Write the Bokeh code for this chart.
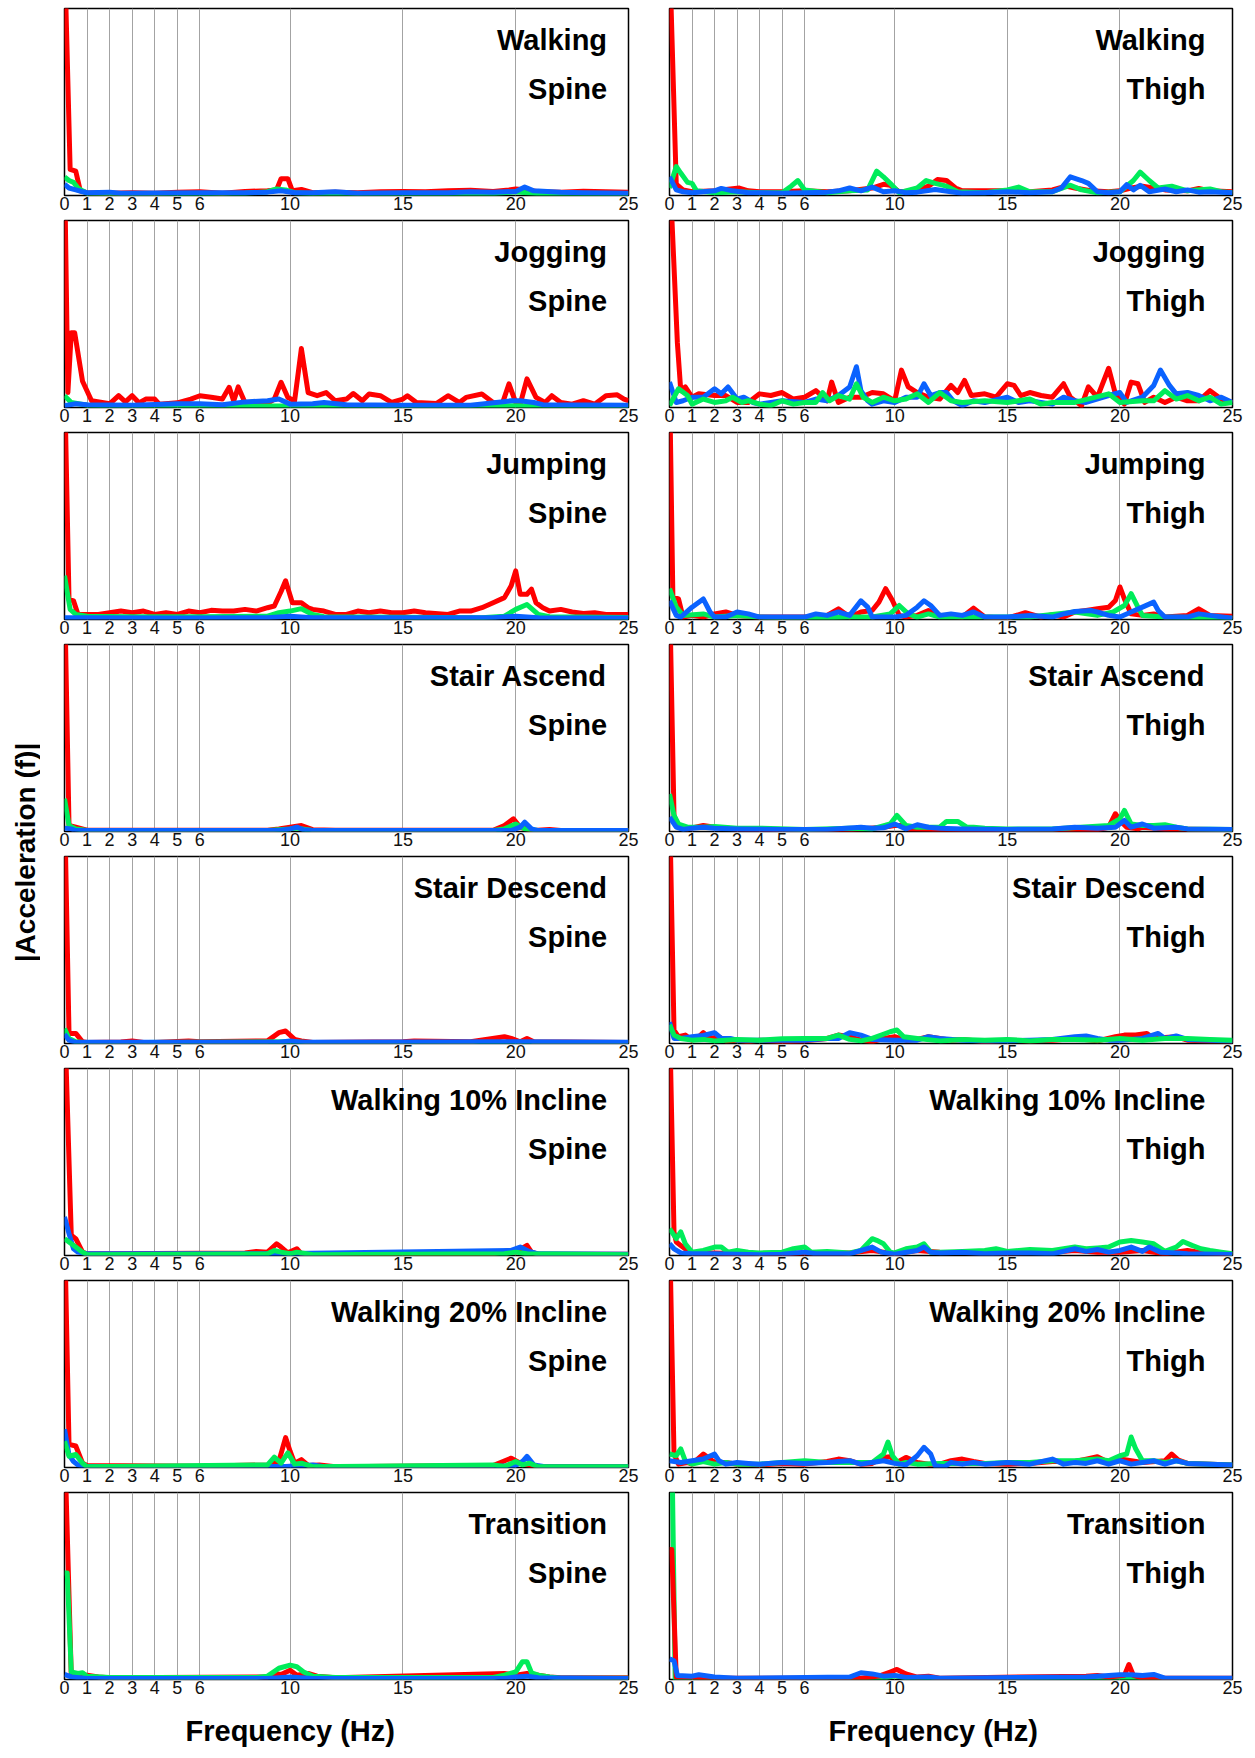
import math

from bokeh.embed import file_html
from bokeh.layouts import column, row
from bokeh.models import FixedTicker, Label, Range1d, Title
from bokeh.plotting import figure
from bokeh.resources import INLINE

# ---------------------------------------------------------------------------
# Axis ticks, panel names
# ---------------------------------------------------------------------------
FREQ_TICKS = [0, 1, 2, 3, 4, 5, 6, 10, 15, 20, 25]
GRID_TICKS = [1, 2, 3, 4, 5, 6, 10, 15, 20]
ACTIVITIES = ["Walking", "Jogging", "Jumping", "Stair Ascend", "Stair Descend",
              "Walking 10% Incline", "Walking 20% Incline", "Transition"]
PLACEMENTS = ["Spine", "Thigh"]

# ---------------------------------------------------------------------------
# Spectra: (frequency Hz, |acceleration| in % of panel height), per axis
# R = red trace, G = green trace, B = blue trace
# ---------------------------------------------------------------------------
WALKING_SPINE_R = [(0, 130), (0.25, 14), (0.5, 13), (0.7, 2.5), (1, 1.5), (2, 1.2), (3, 1.5), (4, 1.2), (5, 1.8),
                   (6, 2), (7, 1.2), (8, 2.2), (9, 2.5), (9.4, 3), (9.6, 9), (9.9, 9), (10.1, 2.5), (10.5, 3.2),
                   (11, 1.5), (12, 1.8), (13, 1.5), (14, 2), (15, 2.2), (16, 2), (17, 2.5), (18, 2.8), (19, 2.2),
                   (19.7, 3), (20, 3.5), (20.5, 3), (21, 2), (22, 1.8), (23, 2.3), (24, 2), (25, 1.8)]
WALKING_SPINE_G = [(0, 10), (0.2, 8), (0.4, 7), (0.6, 4), (0.8, 2.5), (1, 1.2), (3, 0.8), (6, 1), (8, 1.2), (9, 2),
                   (9.4, 3.5), (9.8, 3), (10.2, 1.5), (11, 1), (15, 1), (19, 1), (20, 2), (20.5, 1.5), (21, 1),
                   (25, 0.8)]
WALKING_SPINE_B = [(0, 6), (0.2, 4), (0.5, 3), (0.8, 2), (1, 1.5), (2, 1.8), (2.5, 1.2), (4, 1.3), (6, 1.5), (8, 1.5),
                   (9, 1.8), (9.6, 2.5), (10.2, 1.5), (11, 1.5), (12, 2), (13, 1.2), (15, 1.5), (17, 1.5), (18, 2),
                   (19, 1.8), (20, 2.2), (20.4, 4.5), (20.8, 2.5), (22, 1.8), (23, 1.5), (25, 1.2)]

WALKING_THIGH_R = [(0, 130), (0.3, 6), (0.6, 3), (1, 2), (2, 2.5), (2.7, 3.5), (3.1, 4), (3.5, 2.5), (4, 2), (5, 2),
                   (6, 2.5), (7, 2), (8, 2.5), (9, 4), (9.5, 6), (9.8, 5.5), (10.2, 2), (11, 2.5), (11.5, 5),
                   (11.9, 8.5), (12.3, 8), (12.7, 4), (13, 2.5), (14, 2.5), (15, 2.5), (16, 2), (17, 3), (17.6, 5),
                   (18, 4), (18.7, 2.5), (19.5, 2), (20, 2.5), (20.5, 4), (21, 5), (21.5, 4), (22, 3), (23, 2.5),
                   (23.5, 3.8), (24, 2.5), (25, 2)]
WALKING_THIGH_G = [(0, 4), (0.3, 15.5), (0.5, 12), (0.8, 7), (1.0, 6.5), (1.2, 2.5), (2, 1.5), (3, 2), (4, 1.5),
                   (5, 1.5), (5.4, 5), (5.7, 8), (6, 3), (7, 1.5), (8, 2.5), (8.8, 3), (9.2, 13), (9.5, 10),
                   (9.8, 6.5), (10.2, 1.5), (11, 4), (11.4, 8), (11.8, 6.5), (12.3, 5), (12.8, 2), (14, 1.5), (15, 3),
                   (15.5, 4.5), (16, 2), (17, 2), (17.8, 5.5), (18.3, 3), (19, 1.5), (20, 2), (20.6, 8), (20.9, 12.5),
                   (21.3, 8), (21.7, 4), (22.3, 5), (23, 2.5), (24, 3.5), (24.5, 2), (25, 1.5)]
WALKING_THIGH_B = [(0, 10), (0.3, 3), (0.6, 2), (1, 1.5), (1.5, 2), (2, 2.5), (2.3, 3.8), (2.8, 2.5), (3.5, 1.5),
                   (4, 1.5), (5, 1.2), (6, 1.5), (7, 1.8), (7.5, 2.5), (8, 4), (8.5, 2.5), (9, 4.5), (9.5, 2),
                   (10, 2.5), (10.5, 1.5), (11, 1.8), (11.8, 3.2), (12.5, 2), (13, 1.2), (14, 1.5), (15, 2),
                   (16, 1.5), (17, 2), (17.4, 4), (17.8, 10), (18.3, 8), (18.6, 6.5), (19, 2), (19.5, 1.5), (20, 2),
                   (20.3, 5.8), (20.6, 3), (20.9, 5.5), (21.3, 2), (22, 3.5), (22.5, 2), (23, 3), (23.5, 1.8),
                   (24, 2), (25, 1.5)]

JOGGING_SPINE_R = [(0, 130), (0.15, 8), (0.3, 40), (0.45, 40), (0.8, 14), (1.2, 3.6), (2, 2), (2.4, 6.3), (2.7, 3),
                   (3, 6.3), (3.3, 2.5), (3.6, 4.5), (4, 4.5), (4.2, 1.8), (5, 2.5), (5.6, 4.5), (6, 6.3), (6.5, 5.5),
                   (7, 4.5), (7.3, 10.8), (7.5, 3.5), (7.7, 11), (8, 2.7), (9, 2.2), (9.3, 4.5), (9.6, 13.5),
                   (9.9, 5.4), (10.2, 3.6), (10.5, 31.5), (10.8, 8), (11.2, 6.3), (11.6, 8), (12, 3.6), (12.5, 4.5),
                   (12.8, 7.5), (13.2, 3.6), (13.5, 7.2), (14, 6.3), (14.5, 2.7), (15, 4.5), (15.2, 6.3),
                   (15.6, 2.7), (16.5, 2.2), (17, 6.3), (17.5, 2.7), (17.8, 5.4), (18.5, 7.2), (19, 2.7),
                   (19.4, 1.8), (19.7, 12.6), (20, 2.7), (20.2, 1.8), (20.5, 15.3), (20.9, 5.4), (21.3, 2.7),
                   (21.6, 6.3), (22, 2.7), (22.5, 1.8), (23, 3.6), (23.5, 1.8), (24, 6.3), (24.5, 6.8), (24.8, 4.5),
                   (25, 3.6)]
JOGGING_SPINE_G = [(0, 6.3), (0.3, 2.7), (1, 1.2), (3, 0.8), (10, 0.8), (20, 1), (25, 0.8)]
JOGGING_SPINE_B = [(0, 1), (0.5, 2), (1, 1.5), (3, 1.2), (5, 2), (6, 2), (7, 1.5), (8, 3), (9, 3.6), (9.5, 4.5),
                   (10, 1.8), (11, 2), (11.5, 2.7), (12.5, 1.5), (15, 1.2), (18, 1.2), (19.8, 3.6), (20.2, 3.6),
                   (20.8, 2.7), (21.2, 1.5), (25, 1.2)]

JOGGING_THIGH_R = [(0, 130), (0.35, 34.5), (0.5, 9), (0.7, 11), (1.0, 5.5), (1.3, 7.3), (2, 6.4), (2.5, 6.4),
                   (3, 2.7), (3.5, 2.7), (4, 7.3), (4.5, 6.4), (5, 8), (5.5, 4.5), (6, 5.5), (6.5, 9), (7, 3.6),
                   (7.2, 13.6), (7.5, 2.7), (8, 5.5), (8.5, 5.5), (9, 8), (9.5, 7.3), (10, 3.6), (10.3, 20),
                   (10.6, 11), (11, 8), (11.5, 5.5), (12, 4.5), (12.5, 11.8), (12.8, 8), (13.1, 14.5), (13.4, 6.4),
                   (14, 7.3), (14.5, 5.5), (15, 12.7), (15.3, 11.8), (15.6, 6.4), (16, 8), (16.5, 6.4), (17, 5.5),
                   (17.5, 12.7), (17.8, 5.5), (18.3, 1), (18.6, 11), (19, 5.5), (19.5, 21), (19.8, 7.3),
                   (20.2, 1.8), (20.5, 13.6), (20.8, 12.7), (21.1, 2.7), (21.5, 5.5), (22, 2.7), (22.5, 5.5),
                   (23, 3.6), (23.5, 3.6), (24, 9), (24.5, 4.5), (25, 2.7)]
JOGGING_THIGH_G = [(0, 1), (0.4, 10), (0.8, 6.4), (1.0, 1.8), (1.5, 4.5), (2, 2.7), (2.5, 3.6), (2.8, 5.5),
                   (3.2, 2.7), (3.5, 3.6), (4, 1.8), (4.5, 1), (5, 3.6), (5.5, 1.8), (6, 2.7), (6.5, 2.7), (6.8, 8),
                   (7.1, 3.6), (7.5, 6.4), (8, 4.5), (8.3, 12.7), (8.6, 5.5), (9, 2.7), (9.5, 5.5), (10, 3.6),
                   (10.5, 4.5), (11, 7.3), (11.5, 2.7), (12, 8), (12.5, 3.6), (13, 2.7), (14, 3.6), (15, 2.7),
                   (16, 4.5), (16.5, 1.8), (17, 2.7), (18, 2.7), (19.5, 7.3), (20, 2.7), (21, 3.6), (21.5, 3.6),
                   (22, 9), (22.5, 4.5), (23, 6.4), (23.5, 3.6), (24, 5.5), (24.5, 1.8), (25, 2.7)]
JOGGING_THIGH_B = [(0, 13.6), (0.3, 2.7), (0.6, 3.6), (1, 5.5), (1.5, 5.5), (2, 10), (2.3, 7.3), (2.6, 11),
                   (3, 4.5), (3.3, 5.5), (3.7, 2.7), (4, 1.8), (4.5, 2.7), (5, 3.6), (6, 2.7), (6.5, 4.5), (7, 3.6),
                   (7.5, 6.4), (8, 11), (8.3, 21.8), (8.5, 9), (8.8, 3.6), (9, 1.8), (9.5, 3.6), (10, 2.7),
                   (10.5, 5.5), (11, 5.5), (11.3, 12.7), (11.6, 6.4), (12, 8), (12.3, 8), (12.6, 3.6), (13, 1),
                   (13.5, 3.6), (14, 2.7), (15, 5.5), (15.5, 2.7), (16, 3.6), (17, 1.8), (17.5, 5.5), (18, 3.6),
                   (18.5, 2.7), (19.5, 6.4), (20, 8), (20.3, 2.7), (21, 5.5), (21.5, 11.8), (21.8, 20),
                   (22.2, 11.8), (22.5, 7.3), (23, 8), (23.5, 6.4), (24, 3.6), (24.5, 5.5), (25, 2.7)]

JUMPING_SPINE_R = [(0, 130), (0.2, 10.8), (0.4, 10), (0.6, 2.7), (1, 2.7), (1.5, 2.7), (2, 3.6), (2.5, 4.5),
                   (3, 3.6), (3.5, 4.5), (4, 2.7), (4.5, 3.6), (5, 2.7), (5.5, 4.5), (6, 3.6), (6.5, 4.9), (7, 4.5),
                   (7.5, 4.5), (8, 5.4), (8.5, 4.5), (9, 6.3), (9.3, 7.2), (9.6, 15), (9.8, 20.7), (10.1, 9),
                   (10.5, 9), (10.8, 6.3), (11, 5.4), (11.5, 4.5), (12, 2.7), (12.5, 2.7), (13, 4.5), (13.5, 3.6),
                   (14, 4.5), (14.5, 3.6), (15, 3.6), (15.5, 4.5), (16, 3.6), (17, 2.7), (17.5, 4.5), (18, 4.5),
                   (18.5, 6.3), (19, 9), (19.5, 11.7), (19.8, 18), (20, 26), (20.2, 13.5), (20.5, 13.5),
                   (20.7, 16.2), (20.9, 9), (21.2, 6.3), (21.5, 4.5), (22, 5.4), (22.5, 4), (23, 3.2), (23.5, 3.6),
                   (24, 2.7), (25, 2.7)]
JUMPING_SPINE_G = [(0, 23.4), (0.25, 5.4), (0.5, 2.7), (1, 1.8), (3, 1.5), (6, 1.5), (9, 1.8), (9.5, 3.6), (10, 4.5),
                   (10.5, 5.8), (11, 2.7), (11.5, 1.5), (18.5, 1), (19.5, 1.8), (20, 5.4), (20.5, 8), (21, 2.7),
                   (21.5, 1.5), (25, 1.1)]
JUMPING_SPINE_B = [(0, 1), (1, 1), (5, 0.8), (9, 1), (10, 1.8), (11, 1), (19, 1), (20, 1.8), (21, 1), (25, 0.8)]

JUMPING_THIGH_R = [(0, 130), (0.15, 12), (0.4, 11), (0.6, 1.3), (1, 2.2), (1.5, 1.3), (2, 3), (2.5, 4), (3, 2.2),
                   (4, 1.3), (5, 1.3), (6, 1.3), (7, 2.2), (7.5, 5.7), (8, 1.3), (8.5, 4), (9, 4.8), (9.3, 9.3),
                   (9.6, 16.5), (9.9, 10.2), (10.2, 2.2), (10.5, 1.3), (11, 2.2), (11.5, 4.8), (12, 2.2), (13, 1.3),
                   (13.5, 6.1), (14, 1.3), (15, 0.7), (15.8, 3.6), (16.5, 1.3), (17, 2.5), (17.5, 1.3), (18, 4),
                   (18.5, 4.8), (19, 5.7), (19.5, 6.6), (19.8, 10.2), (20, 17.4), (20.2, 11), (20.5, 3), (21, 2.2),
                   (21.5, 3), (22, 1.3), (23, 2.2), (23.5, 5.7), (24, 2.2), (25, 1.8)]
JUMPING_THIGH_G = [(0, 16.5), (0.3, 6.6), (0.6, 2.2), (1.5, 3), (2, 1.3), (3, 2.2), (4, 1.3), (6, 0.7), (8, 1.3),
                   (9, 1.3), (9.8, 3), (10.2, 7.5), (10.6, 3), (11, 1.3), (11.5, 3), (12, 1.3), (16, 1.3), (18, 4),
                   (19, 2.2), (19.7, 4), (20.2, 7.5), (20.5, 13.8), (20.8, 6.6), (21, 2.2), (22, 1.3), (25, 0.7)]
JUMPING_THIGH_B = [(0, 10), (0.3, 2.2), (0.5, 1.3), (1, 6.6), (1.5, 11), (1.8, 4), (2, 1.3), (2.5, 1.3), (3, 4),
                   (3.5, 3), (4, 1.3), (5, 1.3), (6, 1.3), (6.5, 3), (7, 2.2), (7.5, 4), (8, 2.2), (8.5, 10),
                   (8.8, 6.6), (9, 1.3), (9.5, 1.3), (10, 1.3), (10.5, 2.2), (11, 6.6), (11.3, 10), (11.6, 7.5),
                   (12, 2.2), (12.5, 3), (13, 2.2), (13.5, 4), (14, 1.3), (15, 1.3), (16, 2.2), (17, 1.3),
                   (17.5, 3), (18, 4.3), (18.7, 4.8), (19, 4), (19.5, 2.2), (20, 1.3), (20.5, 4), (21, 6.6),
                   (21.5, 9.3), (21.7, 4.8), (22, 1.3), (23, 1.3), (23.5, 3), (24, 2.2), (25, 0.7)]

STAIR_ASCEND_SPINE_R = [(0, 130), (0.2, 3.2), (0.5, 2.3), (1, 0.7), (5, 0.7), (9, 0.7), (9.5, 1.4), (10.5, 3.2),
                        (11, 1), (12, 0.7), (19, 0.7), (19.5, 3.2), (19.9, 6.8), (20.2, 2.3), (20.8, 0.5),
                        (21.5, 1.1), (22, 0.5), (25, 0.5)]
STAIR_ASCEND_SPINE_G = [(0, 17.6), (0.2, 3.2), (0.5, 1.4), (1, 0.5), (9, 0.5), (10, 1.4), (10.3, 1.8), (11, 0.5),
                        (19, 0.5), (19.5, 1.4), (20, 4), (20.4, 1.4), (21, 0.5), (25, 0.5)]
STAIR_ASCEND_SPINE_B = [(0, 1.8), (0.3, 1.4), (0.5, 0.5), (9.5, 0.5), (10, 1.4), (10.3, 2.3), (10.6, 0.9), (11, 0.5),
                        (19.8, 0.5), (20.2, 2.3), (20.4, 5), (20.7, 1.4), (21, 0.5), (25, 0.5)]

STAIR_ASCEND_THIGH_R = [(0, 130), (0.2, 8.6), (0.4, 2.3), (0.8, 1.4), (1.5, 3.2), (2, 2.3), (3, 1.4), (5, 1), (8, 1),
                        (9.5, 2.3), (10, 3.2), (10.3, 3.2), (10.6, 1.4), (12, 1), (19, 1), (19.5, 2.3), (19.8, 9.5),
                        (20, 5.9), (20.3, 2.3), (20.8, 1.4), (21, 2.3), (22, 1.4), (25, 1)]
STAIR_ASCEND_THIGH_G = [(0, 20), (0.2, 8.6), (0.4, 4), (0.8, 2.3), (1.5, 2.3), (2, 2.7), (3, 1.8), (4, 1.8),
                        (6, 1.1), (8, 1.8), (9, 1.4), (9.8, 4), (10.1, 8.6), (10.5, 3.2), (11, 2.3), (12, 2.3),
                        (12.3, 5.4), (12.8, 5.4), (13.2, 2.3), (13.5, 2.3), (14, 1.8), (15, 1.4), (17, 1.4),
                        (19.5, 3.2), (20, 6.8), (20.2, 11.3), (20.5, 4), (21, 3.2), (21.5, 3.2), (22, 3.6),
                        (22.5, 2.3), (23, 1.4), (25, 1.1)]
STAIR_ASCEND_THIGH_B = [(0, 7.7), (0.3, 2.3), (0.6, 1.1), (1, 1.8), (1.5, 2.3), (2, 1.8), (3, 1.4), (5, 1.1),
                        (7, 1.1), (8.5, 2.3), (9, 1.8), (9.5, 2), (10, 4), (10.5, 1.4), (11, 3.6), (11.5, 2.3),
                        (12, 1.8), (13, 1.4), (15, 1.1), (17, 1.4), (18, 2.3), (19, 1.8), (19.8, 2.3), (20.2, 5.9),
                        (20.5, 2.3), (21, 4), (21.5, 1.8), (22.5, 2.3), (23, 1.4), (25, 1.1)]

STAIR_DESCEND_SPINE_R = [(0, 130), (0.2, 5.4), (0.5, 5.4), (0.8, 0.9), (1, 0.5), (2.5, 0.8), (3, 1.4), (3.5, 0.5),
                         (4, 0.6), (5.5, 1.4), (6, 0.9), (9, 1.4), (9.5, 5.8), (9.8, 6.7), (10.2, 2.2), (10.5, 1.4),
                         (11, 0.5), (15, 0.9), (15.5, 1.4), (18, 0.9), (19.5, 3.6), (19.8, 2.7), (20.2, 0.9),
                         (20.5, 2.7), (20.8, 0.9), (25, 0.5)]
STAIR_DESCEND_SPINE_G = [(0, 8), (0.2, 2.7), (0.5, 0.9), (1, 0.4), (10, 0.9), (11, 0.4), (25, 0.4)]
STAIR_DESCEND_SPINE_B = [(0, 5), (0.2, 1.8), (0.5, 0.5), (1, 0.7), (9.5, 0.7), (10, 1.4), (10.5, 0.7), (20, 0.9),
                         (25, 0.7)]

STAIR_DESCEND_THIGH_R = [(0, 130), (0.2, 7.2), (0.4, 3.6), (0.7, 4.5), (1, 1.8), (1.3, 3.6), (1.5, 5.8), (1.8, 2.7),
                         (2.2, 3.6), (2.5, 1.4), (3, 1.8), (3.5, 0.9), (4, 1.8), (5, 0.9), (6, 1.4), (7, 2.7),
                         (7.5, 4.5), (8, 3.6), (8.5, 1.8), (9, 0.9), (9.5, 2.7), (10, 3.6), (10.5, 1.8), (11, 2.2),
                         (11.5, 3.6), (12, 2.7), (12.5, 1.8), (13, 2.2), (14, 0.9), (15, 1.8), (16, 1.4), (17, 1.8),
                         (18, 2.7), (19, 1.4), (19.8, 3.6), (20.2, 4.5), (20.7, 4.5), (21.2, 5.4), (21.5, 2.7),
                         (22, 3.2), (22.5, 3.6), (23, 1.8), (24, 1.4), (25, 1.4)]
STAIR_DESCEND_THIGH_G = [(0, 10), (0.2, 4.5), (0.5, 2.7), (1, 1.8), (1.5, 2.2), (2, 1.4), (3, 2.2), (4, 1.8),
                         (5, 2.5), (6, 2.7), (7, 2.7), (7.5, 4.5), (8, 2.2), (8.5, 1.4), (9, 2.7), (9.8, 6.3),
                         (10.1, 7.2), (10.4, 3.6), (11, 2.7), (12, 1.4), (13, 2.2), (14, 1.8), (15, 2.2), (16, 1.4),
                         (17, 2.2), (18, 2.2), (19, 1.8), (20, 2.7), (21, 1.8), (22, 2.7), (23, 2.7), (24, 2.2),
                         (25, 1.8)]
STAIR_DESCEND_THIGH_B = [(0, 11.4), (0.2, 2.7), (0.5, 2.7), (1, 3.6), (1.5, 4.3), (2, 5.8), (2.3, 2.7), (2.7, 2.7),
                         (3, 1.8), (4, 1.8), (5, 1.8), (6, 1.8), (7, 2.7), (7.5, 2.7), (8, 5.8), (8.5, 4.5), (9, 2.2),
                         (10, 1.8), (11, 1.8), (11.5, 3.6), (12, 2.7), (13, 1.8), (14, 1.4), (15, 1.4), (16, 1.8),
                         (17, 2.2), (18, 3.6), (18.5, 4), (19, 2.7), (19.5, 1.8), (20, 1.8), (21, 2.7), (21.7, 5.4),
                         (22, 2.7), (22.5, 4), (23, 2.2), (25, 1.4)]

INCLINE10_SPINE_R = [(0, 130), (0.3, 10.8), (0.5, 9), (0.8, 1.8), (1, 0.9), (4, 1.1), (8, 1.4), (8.5, 2.2), (9, 1.8),
                     (9.4, 6.3), (9.6, 4.5), (9.9, 1.4), (10.3, 3.6), (10.5, 0.9), (11, 0.7), (19, 0.9), (19.7, 2.7),
                     (20, 1.8), (20.5, 5.4), (20.7, 1.8), (21, 0.7), (25, 0.7)]
INCLINE10_SPINE_G = [(0, 9), (0.2, 7.2), (0.5, 4.5), (0.8, 1.8), (1, 0.4), (9, 0.9), (9.3, 2.7), (9.6, 1.8),
                     (10, 0.9), (10.3, 1.8), (11, 0.4), (19.5, 0.9), (20, 1.8), (20.5, 0.9), (25, 0.4)]
INCLINE10_SPINE_B = [(0, 20.7), (0.2, 11.7), (0.4, 3.6), (0.6, 1.8), (1, 0.9), (9.3, 0.9), (19.8, 2.7), (20.2, 4.5),
                     (20.6, 2.2), (21, 0.9), (25, 0.7)]

INCLINE10_THIGH_R = [(0, 130), (0.2, 12.6), (0.3, 7.2), (0.5, 5.4), (0.8, 2.7), (1, 1.4), (2, 1.4), (3, 0.9),
                     (5, 0.9), (6, 1.4), (8, 1.4), (9, 2.7), (9.5, 1.8), (10, 0.9), (11, 2.7), (12, 1.8), (15, 1.4),
                     (17, 1.8), (18, 2.7), (19, 1.8), (20, 1.8), (21, 2.7), (22, 0.9), (23, 2.7), (23.5, 1.8),
                     (25, 0.7)]
INCLINE10_THIGH_G = [(0, 14.4), (0.3, 9), (0.5, 12.6), (0.7, 6.3), (1, 1.8), (1.5, 2.7), (2, 4.5), (2.3, 4.5),
                     (2.6, 1.8), (3, 2.7), (3.5, 1.8), (4, 1.4), (5, 1.8), (5.5, 3.6), (6, 4.5), (6.3, 1.8), (7, 2.2),
                     (7.5, 1.8), (8, 1.4), (8.5, 2.7), (9, 9), (9.2, 8.1), (9.5, 6.3), (9.8, 1.8), (10, 1.4),
                     (10.5, 3.6), (11, 4.5), (11.3, 6.3), (11.6, 1.8), (12, 1.8), (13, 2.2), (14, 2.7), (14.5, 3.6),
                     (15, 2.2), (16, 3.2), (17, 2.7), (18, 4.5), (18.5, 3.6), (19, 4), (19.5, 4.5), (20, 7.2),
                     (20.5, 8), (21, 7.2), (21.5, 6.3), (22, 2.2), (22.5, 4.5), (22.8, 7.5), (23.2, 5.4),
                     (23.6, 3.6), (24, 2.7), (24.5, 1.8), (25, 0.9)]
INCLINE10_THIGH_B = [(0, 6.3), (0.2, 3.6), (0.5, 1.4), (1, 0.9), (2, 0.9), (3, 0.7), (4, 0.4), (5, 0.7), (6, 1.8),
                     (6.5, 0.9), (7, 0.9), (8, 0.9), (9, 4.5), (9.4, 1.8), (10, 0.7), (11, 2.7), (11.3, 4.5),
                     (11.6, 1.8), (12, 1.4), (13, 1.8), (14, 0.9), (15, 1.4), (16, 1.4), (17, 0.9), (18, 3.6),
                     (18.5, 2.2), (19, 3.2), (19.5, 1.8), (20, 2.7), (20.5, 4.5), (21, 2.2), (21.3, 4.5),
                     (21.8, 1.8), (22.5, 1.4), (23, 0.9), (25, 0.5)]

INCLINE20_SPINE_R = [(0, 130), (0.2, 12.4), (0.5, 11.5), (0.8, 2.3), (1, 1.1), (6, 0.7), (9, 1.4), (9.5, 3.2),
                     (9.8, 16), (10, 8.7), (10.2, 2.3), (10.5, 4.2), (10.8, 1.1), (11.3, 1.4), (12, 0.4), (19, 1.1),
                     (19.8, 5), (20.2, 2.3), (20.5, 1.4), (21, 0.5), (25, 0.5)]
INCLINE20_SPINE_G = [(0, 14), (0.2, 6), (0.5, 7), (0.8, 2.3), (1, 0.4), (9, 1.4), (9.3, 5.5), (9.6, 2.3), (9.9, 7.8),
                     (10.2, 1.8), (10.5, 2.3), (11, 0.4), (19, 1.4), (19.5, 0.5), (20, 3.2), (20.3, 1.4),
                     (20.6, 2.3), (21, 0.4), (25, 0.4)]
INCLINE20_SPINE_B = [(0, 20.5), (0.2, 6.8), (0.4, 3.2), (0.6, 1.4), (1, 0.5), (9.8, 0.5), (11, 1.4), (11.5, 0.4),
                     (19, 0.5), (20, 1.1), (20.3, 3.2), (20.5, 6), (20.8, 1.4), (21.3, 0.4), (25, 0.4)]

INCLINE20_THIGH_R = [(0, 130), (0.2, 7.2), (0.4, 1.8), (0.8, 2.7), (1, 1.8), (1.5, 7.2), (1.8, 4.5), (2, 2.7),
                     (2.5, 2.7), (3, 1.8), (3.5, 1.8), (4, 1.4), (5, 2.2), (6, 1.8), (7, 3.2), (7.5, 4.5), (8, 3.6),
                     (8.5, 1.8), (9, 2.2), (9.5, 5.4), (9.8, 5.8), (10.1, 2.7), (10.5, 5.4), (11, 2.7), (11.5, 1.8),
                     (12, 1.8), (12.5, 3.6), (13, 4.5), (13.5, 3.2), (14, 2.2), (15, 1.8), (16, 2.2), (17, 3.2),
                     (18, 3.2), (18.5, 4.5), (19, 5.8), (19.5, 2.7), (20, 4.5), (20.5, 3.6), (21, 2.7), (22, 3.6),
                     (22.3, 7.2), (22.6, 4), (23, 2.2), (24, 1.8), (25, 1.4)]
INCLINE20_THIGH_G = [(0, 7.2), (0.3, 6.3), (0.5, 10), (0.7, 3.6), (1, 1.8), (1.5, 3.2), (2, 1.8), (2.5, 2.7),
                     (3, 1.8), (4, 1.8), (5, 2.7), (6, 3.6), (7, 2.7), (8, 2.7), (9, 2.7), (9.5, 7.2), (9.7, 13.6),
                     (9.9, 6.3), (10.2, 1.8), (10.5, 2.7), (11, 1.8), (12, 2.2), (13, 2.2), (14, 2.2), (15, 2.7),
                     (16, 2.7), (17, 3.6), (18, 3.6), (19, 4.5), (19.5, 3.6), (20, 6.3), (20.3, 7.2), (20.5, 16.3),
                     (20.7, 10), (21, 3.6), (21.5, 3.6), (22, 2.7), (22.5, 3.6), (23, 2.2), (24, 1.8), (25, 1.4)]
INCLINE20_THIGH_B = [(0, 3.6), (0.5, 2.7), (1, 3.6), (1.5, 4.5), (2, 7.2), (2.2, 3.6), (2.5, 1.8), (3, 2.7),
                     (3.5, 2.2), (4, 1.8), (5, 2.7), (6, 2.2), (7, 2.7), (7.5, 3.2), (8, 3.6), (8.5, 1.8), (9, 2.7),
                     (9.5, 3.6), (10, 2.2), (10.5, 1.4), (11, 6.3), (11.3, 10.8), (11.6, 7.2), (11.8, 0.9),
                     (12.2, 0.4), (12.5, 2.7), (13, 1.8), (13.5, 2.7), (14, 1.8), (15, 2.7), (16, 1.8), (17, 4.5),
                     (17.5, 1.8), (18, 2.7), (18.5, 2.2), (19, 3.6), (19.5, 1.8), (20, 3.6), (20.5, 1.8), (21, 2.7),
                     (21.5, 3.6), (22, 1.8), (22.5, 3.6), (23, 2.2), (24, 1.8), (25, 1.4)]

TRANSITION_SPINE_R = [(0, 130), (0.3, 2.3), (0.6, 2.3), (1, 2.3), (1.5, 1.4), (2, 1), (9, 1.4), (9.3, 3.2),
                      (9.6, 2.7), (10, 5), (10.3, 2.3), (10.8, 3.2), (11.2, 1.8), (12, 0.9), (19.5, 3.2), (20, 2.3),
                      (20.5, 3.2), (21, 2.3), (21.5, 1.4), (22, 0.9), (25, 0.9)]
TRANSITION_SPINE_G = [(0, 57), (0.12, 57), (0.3, 4), (0.6, 3.2), (0.8, 3.6), (1, 1.8), (2, 1.1), (8.5, 1.1),
                      (9, 1.8), (9.5, 6), (10, 7.7), (10.3, 6.8), (10.6, 4), (11, 1.8), (12, 1.1), (19, 1.1),
                      (19.5, 2.3), (20, 4), (20.3, 9.5), (20.5, 9.5), (20.7, 3.6), (21, 2.3), (21.5, 1.4), (22, 0.7),
                      (25, 0.7)]
TRANSITION_SPINE_B = [(0, 2.7), (0.3, 1.4), (1, 0.5), (9, 0.5), (10, 1.4), (11, 0.5), (19.5, 0.5), (20, 1.4),
                      (20.5, 1.8), (21, 0.9), (25, 0.5)]

TRANSITION_THIGH_R = [(0, 69.5), (0.1, 69.5), (0.3, 1.3), (1, 1.3), (2, 0.7), (8.5, 0.7), (9.3, 1.8), (9.8, 4),
                      (10.1, 5.4), (10.5, 3), (11, 1.3), (11.5, 1.8), (12, 0.7), (18.5, 1.8), (19, 2.2), (19.5, 1.3),
                      (20.2, 2.2), (20.4, 8), (20.6, 2.2), (21, 0.7), (25, 0.7)]
TRANSITION_THIGH_G = [(0, 130), (0.1, 130), (0.25, 0.5), (1, 0.4), (9.5, 0.7), (10, 2), (10.5, 0.9), (11, 0.9),
                      (11.5, 0.4), (25, 0.4)]
TRANSITION_THIGH_B = [(0, 11), (0.2, 10), (0.35, 2.2), (1, 1.8), (1.3, 2.5), (2, 1.3), (3, 0.7), (8, 1.3), (8.5, 3.6),
                      (9, 3), (9.5, 1.8), (10, 2.2), (10.5, 1.1), (11.5, 1.3), (12, 0.7), (18.5, 1.3), (19.5, 2.2),
                      (20, 2.5), (20.5, 2.5), (21, 2.2), (21.5, 2.7), (22, 0.7), (25, 0.7)]

# ---------------------------------------------------------------------------
# Lookup table built from the named series
# ---------------------------------------------------------------------------
SERIES = {
    ("Walking", "Spine"): (WALKING_SPINE_R, WALKING_SPINE_G, WALKING_SPINE_B),
    ("Walking", "Thigh"): (WALKING_THIGH_R, WALKING_THIGH_G, WALKING_THIGH_B),
    ("Jogging", "Spine"): (JOGGING_SPINE_R, JOGGING_SPINE_G, JOGGING_SPINE_B),
    ("Jogging", "Thigh"): (JOGGING_THIGH_R, JOGGING_THIGH_G, JOGGING_THIGH_B),
    ("Jumping", "Spine"): (JUMPING_SPINE_R, JUMPING_SPINE_G, JUMPING_SPINE_B),
    ("Jumping", "Thigh"): (JUMPING_THIGH_R, JUMPING_THIGH_G, JUMPING_THIGH_B),
    ("Stair Ascend", "Spine"): (STAIR_ASCEND_SPINE_R, STAIR_ASCEND_SPINE_G, STAIR_ASCEND_SPINE_B),
    ("Stair Ascend", "Thigh"): (STAIR_ASCEND_THIGH_R, STAIR_ASCEND_THIGH_G, STAIR_ASCEND_THIGH_B),
    ("Stair Descend", "Spine"): (STAIR_DESCEND_SPINE_R, STAIR_DESCEND_SPINE_G, STAIR_DESCEND_SPINE_B),
    ("Stair Descend", "Thigh"): (STAIR_DESCEND_THIGH_R, STAIR_DESCEND_THIGH_G, STAIR_DESCEND_THIGH_B),
    ("Walking 10% Incline", "Spine"): (INCLINE10_SPINE_R, INCLINE10_SPINE_G, INCLINE10_SPINE_B),
    ("Walking 10% Incline", "Thigh"): (INCLINE10_THIGH_R, INCLINE10_THIGH_G, INCLINE10_THIGH_B),
    ("Walking 20% Incline", "Spine"): (INCLINE20_SPINE_R, INCLINE20_SPINE_G, INCLINE20_SPINE_B),
    ("Walking 20% Incline", "Thigh"): (INCLINE20_THIGH_R, INCLINE20_THIGH_G, INCLINE20_THIGH_B),
    ("Transition", "Spine"): (TRANSITION_SPINE_R, TRANSITION_SPINE_G, TRANSITION_SPINE_B),
    ("Transition", "Thigh"): (TRANSITION_THIGH_R, TRANSITION_THIGH_G, TRANSITION_THIGH_B),
}

# which trace is painted last (on top) differs between some panels
DRAW_ORDER = {
    ("Jogging", "Thigh"): "RBG",
    ("Stair Descend", "Thigh"): "RBG",
    ("Walking 10% Incline", "Spine"): "RBG",
    ("Walking 20% Incline", "Spine"): "RBG",
    ("Transition", "Thigh"): "GRB",
}

COLORS = {"R": "#ff0000", "G": "#00ec5a", "B": "#0a62ff"}
FONT = "Liberation Sans"

FRAME_H = 187
TOP_PAD = 8
LAST_BOTTOM = 79
COLS = [
    dict(left=24, frame=564, right=22, title_x=24.05, xlabel_offset=121),
    dict(left=19, frame=563, right=23, title_x=23.8, xlabel_offset=159),
]


def make_panel(activity, placement, col, last):
    spec = COLS[col]
    p = figure(
        frame_width=spec["frame"], frame_height=FRAME_H,
        x_range=Range1d(0, 25), y_range=Range1d(0, 100),
        min_border_left=spec["left"], min_border_right=spec["right"],
        min_border_top=TOP_PAD, min_border_bottom=LAST_BOTTOM if last else 0,
        output_backend="svg", toolbar_location=None, tools="",
        background_fill_color="white", border_fill_color="white",
    )
    p.yaxis.visible = False
    p.ygrid.visible = False

    ax = p.xaxis[0]
    ax.ticker = FixedTicker(ticks=FREQ_TICKS)
    ax.axis_line_color = None
    ax.major_tick_line_color = None
    ax.minor_tick_line_color = None
    ax.major_tick_out = 0
    ax.major_tick_in = 0
    ax.major_label_standoff = 1
    ax.major_label_text_font = FONT
    ax.major_label_text_font_size = "18px"
    ax.major_label_text_color = "#111111"

    p.xgrid.ticker = FixedTicker(ticks=GRID_TICKS)
    p.xgrid.grid_line_color = "#a3a3a3"
    p.xgrid.grid_line_width = 1

    p.outline_line_color = "black"
    p.outline_line_width = 1.5
    p.outline_line_alpha = 1.0

    traces = dict(zip("RGB", SERIES[(activity, placement)]))
    for key in DRAW_ORDER.get((activity, placement), "RGB"):
        pts = traces[key]
        p.line([f for f, _ in pts], [a for _, a in pts], line_color=COLORS[key],
               line_width=5, line_join="round")

    for text, y in ((activity, 83.4), (placement, 56.7)):
        p.add_layout(Label(x=spec["title_x"], y=y, text=text, text_align="right", text_baseline="alphabetic",
                           text_font=FONT, text_font_style="bold", text_font_size="29px",
                           text_color="black"))

    if last:
        p.add_layout(Title(text="Frequency (Hz)", align="left", offset=spec["xlabel_offset"], standoff=33,
                           text_font=FONT, text_font_style="bold", text_font_size="29px",
                           text_color="black"), "below")
    return p


# narrow strip on the left carrying the shared y-axis title
ylab = figure(
    frame_width=40, frame_height=1758, x_range=Range1d(0, 40), y_range=Range1d(0, 1758),
    min_border_left=0, min_border_right=0, min_border_top=0, min_border_bottom=0,
    output_backend="svg", toolbar_location=None, tools="",
    background_fill_color="white", border_fill_color="white",
)
ylab.axis.visible = False
ylab.grid.visible = False
ylab.outline_line_color = None
ylab.add_layout(Label(x=25, y=1758 - 852, text="|Acceleration (f)|", angle=math.pi / 2,
                      text_align="center", text_baseline="middle", text_font=FONT,
                      text_font_style="bold", text_font_size="28px", text_color="black"))

rows = []
for i, act in enumerate(ACTIVITIES):
    last = i == len(ACTIVITIES) - 1
    rows.append(row(make_panel(act, "Spine", 0, last), make_panel(act, "Thigh", 1, last), spacing=0))

layout = row(ylab, column(*rows, spacing=0), spacing=0)

open("out.html", "w").write(file_html(layout, INLINE, title="Acceleration spectra"))
